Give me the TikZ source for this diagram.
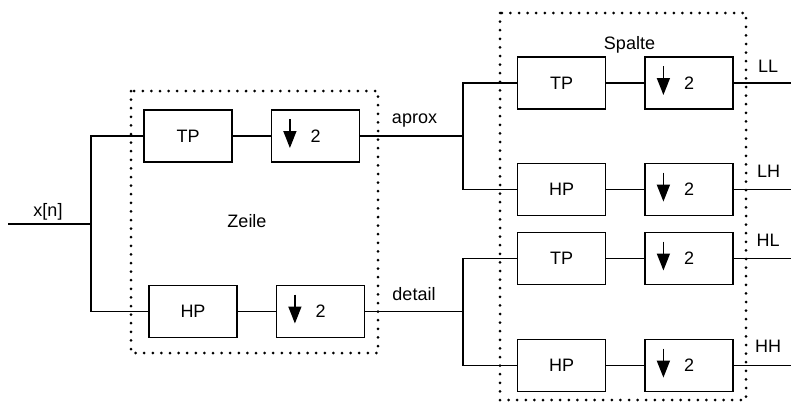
\documentclass[tikz,border=0pt]{standalone}
\usepackage{fontspec}
\setmainfont{Liberation Sans}
\usetikzlibrary{arrows.meta, positioning}
\tikzset{
  filt/.style={draw, line width=1.6pt, minimum width=88pt, minimum height=52pt,
    inner sep=0pt, font=\fontsize{18}{20}\selectfont},
  dsbox/.style={filt},
  wire/.style={line width=1.6pt},
  dsarrow/.style={line width=1.6pt, -{Triangle[length=17pt, width=13pt]}},
  dotframe/.style={line width=3pt, line cap=round, dash pattern=on 0pt off 8.6pt},
  lbl/.style={anchor=base, inner sep=0pt, font=\fontsize{18}{20}\selectfont},
}
\begin{document}
\begin{tikzpicture}[x=1pt, y=-1pt, node distance=53pt and 38pt]
    \useasboundingbox (0,0) rectangle (791,405);
    % Zeile
    \node[filt] (tp1) at (188,136) {TP};
    \node[dsbox, right=of tp1] (ds1) {2};
    \node[filt] (hp1) at (193,311.5) {HP};
    \node[dsbox, right=of hp1] (ds2) {2};
    % Spalte
    \node[filt] (tp2) at (561.5,83) {TP};
    \node[dsbox, right=of tp2] (ds3) {2};
    \node[filt, below=of tp2] (hp2) {HP};
    \node[dsbox, right=of hp2] (ds4) {2};
    \node[filt] (tp3) at (561.5,258.5) {TP};
    \node[dsbox, right=of tp3] (ds5) {2};
    \node[filt, below=53.5pt of tp3] (hp3) {HP};
    \node[dsbox, right=of hp3] (ds6) {2};
    \foreach \n in {ds1,ds2,ds3,ds4,ds5,ds6}
      \draw[dsarrow] ([xshift=-25.7pt, yshift=17pt]\n.center) -- ([xshift=-25.7pt, yshift=-12pt]\n.center);

    \draw[dotframe] (131,91) rectangle (378,353);
    \draw[dotframe] (500,13) rectangle (746,400);

    \node[lbl] (zeile) at (247,227.5) {Zeile};
    \node[lbl] (spalte) at (629.5,49) {Spalte};
    \node[lbl] (xn) at (48,216) {x[n]};
    \node[lbl] (aprox) at (414.5,123) {aprox};
    \node[lbl] (detail) at (414,300) {detail};
    \node[lbl] (ll) at (768,72) {LL};
    \node[lbl] (lh) at (768.5,177) {LH};
    \node[lbl] (hl) at (768,246) {HL};
    \node[lbl] (hh) at (768,352.5) {HH};

    \coordinate (in) at (8,224);
    \coordinate (s1) at (91,224);
    \coordinate (s2) at (463,136);
    \coordinate (s3) at (463,311.5);
    \coordinate (rim) at (791,0);

    \draw[wire] (in) -- (s1); \draw[wire] (tp1.west) -| (s1) |- (hp1.west);
    \draw[wire] (tp1) -- (ds1); \draw[wire] (hp1) -- (ds2);
    \draw[wire] (ds1.east) -- (s2); \draw[wire] (tp2.west) -| (s2) |- (hp2.west);
    \draw[wire] (ds2.east) -- (s3); \draw[wire] (tp3.west) -| (s3) |- (hp3.west);
    \draw[wire] (tp2) -- (ds3); \draw[wire] (hp2) -- (ds4);
    \draw[wire] (tp3) -- (ds5); \draw[wire] (hp3) -- (ds6);
    \foreach \n in {ds3,ds4,ds5,ds6}
      \draw[wire] (\n.east) -- (\n.east -| rim);
  \end{tikzpicture}
\end{document}
